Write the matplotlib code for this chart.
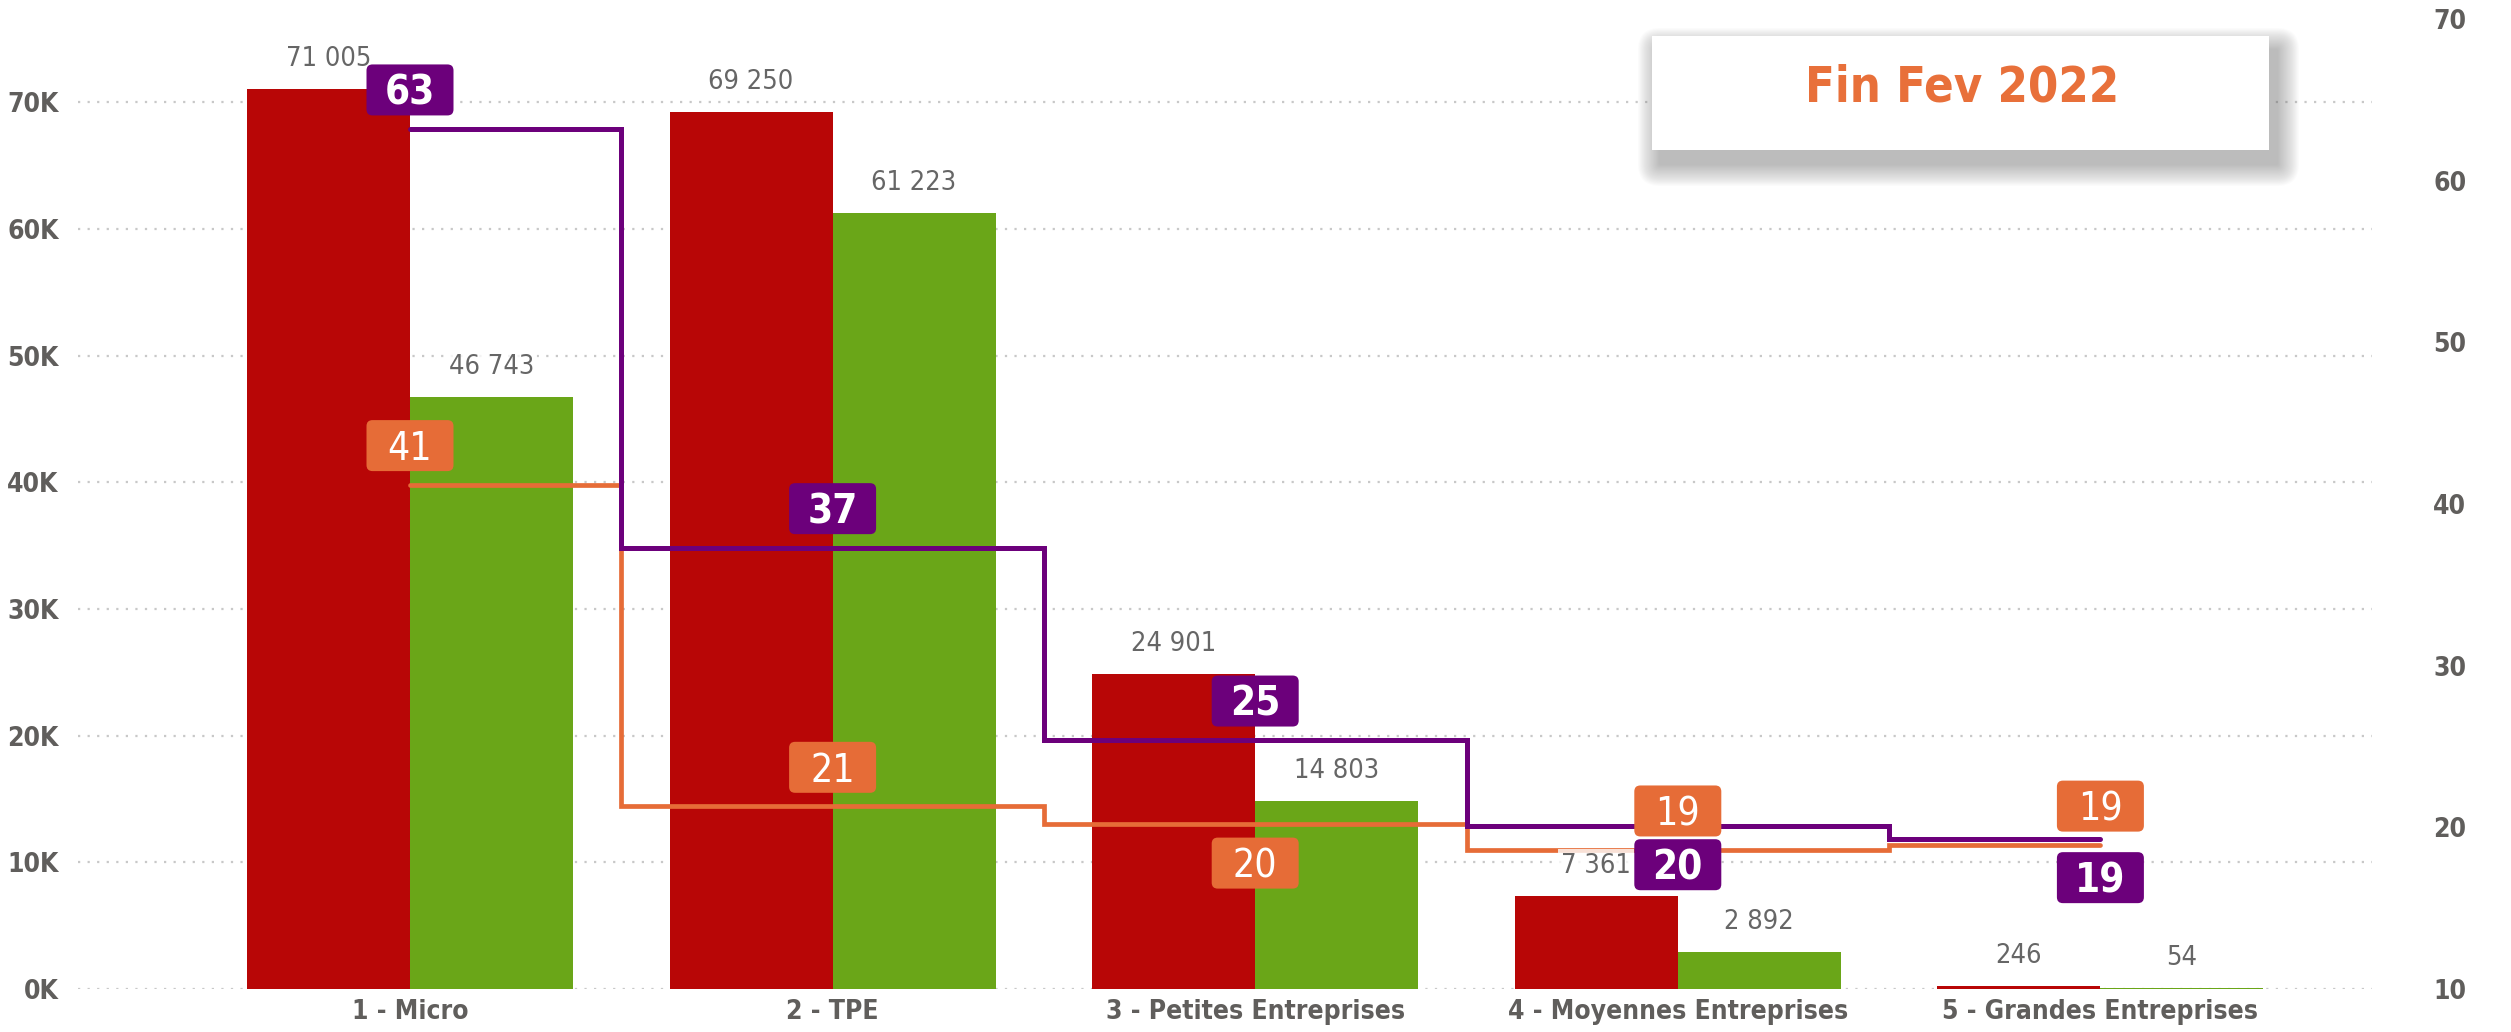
import matplotlib
matplotlib.use("Agg")
import matplotlib.pyplot as plt
import numpy as np
from matplotlib import font_manager as fm
from matplotlib import transforms as mtransforms
from matplotlib.patches import FancyBboxPatch

# ---------------- data ----------------
categories = ["1 - Micro", "2 - TPE", "3 - Petites Entreprises",
              "4 - Moyennes Entreprises", "5 - Grandes Entreprises"]
series_red = [71005, 69250, 24901, 7361, 246]
series_green = [46743, 61223, 14803, 2892, 54]
line_purple = [63.2, 37.3, 25.4, 20.1, 19.3]
line_orange = [41.2, 21.3, 20.2, 18.6, 18.9]
purple_label_pos = ["above", "above", "above", "below", "below"]
orange_label_pos = ["above", "above", "below", "above", "above"]
left_ticks = [0, 10000, 20000, 30000, 40000, 50000, 60000, 70000]
left_tick_labels = ["0K", "10K", "20K", "30K", "40K", "50K", "60K", "70K"]
right_ticks = [10, 20, 30, 40, 50, 60, 70]
right_tick_labels = ["10", "20", "30", "40", "50", "60", "70"]
title_text = "Fin Fev 2022"

# ---------------- style ----------------
C_RED = "#B80606"
C_GREEN = "#6AA618"
C_PURPLE = "#6C007B"
C_ORANGE = "#E66C37"
C_TITLE = "#E8703A"
C_TEXT = "#605E5C"
C_LABEL = "#666666"
C_GRID = "#C8C8C8"


def pick_font(bold):
    target = 700 if bold else 400
    pref = ["DejaVu Sans", "Liberation Sans Narrow", "Noto Sans", "Open Sans", "Roboto"]
    best, best_score = None, None
    for f in fm.fontManager.ttflist:
        st = f.stretch
        if isinstance(st, str):
            cond = st in ("condensed", "semi-condensed", "extra-condensed", "ultra-condensed")
        else:
            try:
                cond = float(st) < 100
            except Exception:
                cond = False
        if not cond or f.style != "normal" or f.name not in pref:
            continue
        w = f.weight
        if isinstance(w, str):
            w = fm.weight_dict.get(w, 400)
        score = (pref.index(f.name), abs(w - target))
        if best_score is None or score < best_score:
            best, best_score = f, score
    if best is not None:
        return lambda size: fm.FontProperties(fname=best.fname, size=size)
    return lambda size: fm.FontProperties(family="DejaVu Sans",
                                          weight="bold" if bold else "normal", size=size)


FB = pick_font(True)
FR = pick_font(False)

W, H, DPI = 2511, 1032, 100
fig = plt.figure(figsize=(W / DPI, H / DPI), dpi=DPI)
fig.patch.set_facecolor("white")

ax_l, ax_r, ax_t, ax_b = 78, 2372, 19, 989
ax = fig.add_axes([ax_l / W, 1 - ax_b / H, (ax_r - ax_l) / W, (ax_b - ax_t) / H])

spacing = 422.6
c0 = 410
x = np.arange(len(categories))
ax.set_xlim((ax_l - c0) / spacing, (ax_r - c0) / spacing)
ax.set_ylim(0, (ax_b - ax_t) / 126.7 * 10000)

bw = 163 / spacing
ax.bar(x - bw / 2, series_red, bw, color=C_RED, zorder=2)
ax.bar(x + bw / 2, series_green, bw, color=C_GREEN, zorder=2)

ax.set_yticks(left_ticks)
ax.set_yticklabels(left_tick_labels)
ax.grid(axis="y", color=C_GRID, linestyle=(0, (1, 3.3)), linewidth=1.6)
ax.set_axisbelow(True)
ax.set_xticks(x)
ax.set_xticklabels(categories)
for s in ax.spines.values():
    s.set_visible(False)
ax.tick_params(axis="y", length=0, pad=14, colors=C_TEXT)
ax.tick_params(axis="x", length=0, pad=7, colors=C_TEXT)
for t in ax.get_yticklabels():
    t.set_fontproperties(FB(19))
for t in ax.get_xticklabels():
    t.set_fontproperties(FB(19))

ax2 = ax.twinx()
ax2.set_ylim(10, 70)
ax2.set_yticks(right_ticks)
ax2.set_yticklabels(right_tick_labels)
for s in ax2.spines.values():
    s.set_visible(False)
ax2.tick_params(axis="y", length=0, pad=44, colors=C_TEXT)
for t in ax2.get_yticklabels():
    t.set_fontproperties(FB(19))

ax2.plot(x, line_orange, drawstyle="steps-mid", color=C_ORANGE, lw=3.4,
         solid_capstyle="round", solid_joinstyle="miter", zorder=3)
ax2.plot(x, line_purple, drawstyle="steps-mid", color=C_PURPLE, lw=3.6,
         solid_capstyle="round", solid_joinstyle="miter", zorder=3)

# bar value labels (semi-transparent white background like the original)
def fmt_int(v):
    return f"{v:,}".replace(",", " ")

for vals, dx in ((series_red, -bw / 2), (series_green, bw / 2)):
    for xi, v in zip(x, vals):
        ax2.annotate(fmt_int(v), xy=(xi + dx, v), xycoords=ax.transData,
                     xytext=(0, 21.6), textcoords="offset points",
                     ha="center", va="center", color=C_LABEL,
                     fontproperties=FR(19.5), zorder=4,
                     bbox=dict(boxstyle="square,pad=0.12", fc="white", ec="none", alpha=0.8))

# line data labels in rounded boxes
px2pt = 72 / DPI
BOX_W, BOX_H = 87, 51
OFF = 39  # px

def line_labels(vals, positions, color, bold):
    for xi, v, pos in zip(x, vals, positions):
        off = OFF if pos == "above" else -OFF
        trans = mtransforms.Affine2D() + mtransforms.ScaledTranslation(xi, v, ax2.transData)
        box = FancyBboxPatch((-BOX_W / 2, off - BOX_H / 2), BOX_W, BOX_H,
                             boxstyle="round,pad=0,rounding_size=6",
                             fc=color, ec="none", transform=trans, zorder=6)
        ax2.add_patch(box)
        fp = FB(29) if bold else FR(28)
        ax2.annotate(f"{round(v):d}", xy=(xi, v), xytext=(0, (off - 14.5) * px2pt),
                     textcoords="offset points", ha="center", va="baseline",
                     color="white", fontproperties=fp, zorder=7)

line_labels(line_orange, orange_label_pos, C_ORANGE, False)
line_labels(line_purple, purple_label_pos, C_PURPLE, True)

# title card with soft shadow (figure pixel coordinates)
bx0, bx1, by_top, by_bot = 1652, 2269, 36, 150
pix = mtransforms.IdentityTransform()
for k in range(20, 0, -1):
    e = k * 1.1
    sh = FancyBboxPatch((bx0 + 8 - e, H - by_bot - 14 - e),
                        (bx1 - bx0) + 2 * e, (by_bot - by_top) + 2 * e,
                        boxstyle="round,pad=0,rounding_size=%.1f" % e,
                        fc="#666666", ec="none", alpha=0.022, transform=pix, zorder=8)
    fig.add_artist(sh)
card = FancyBboxPatch((bx0, H - by_bot), bx1 - bx0, by_bot - by_top,
                      boxstyle="square,pad=0", fc="white", ec="none",
                      transform=pix, zorder=9)
fig.add_artist(card)
fig.text(1962 / W, 1 - 87 / H, title_text, ha="center", va="center",
         color=C_TITLE, fontproperties=FB(35), zorder=10)

fig.savefig("out.png", dpi=DPI, facecolor="white")
